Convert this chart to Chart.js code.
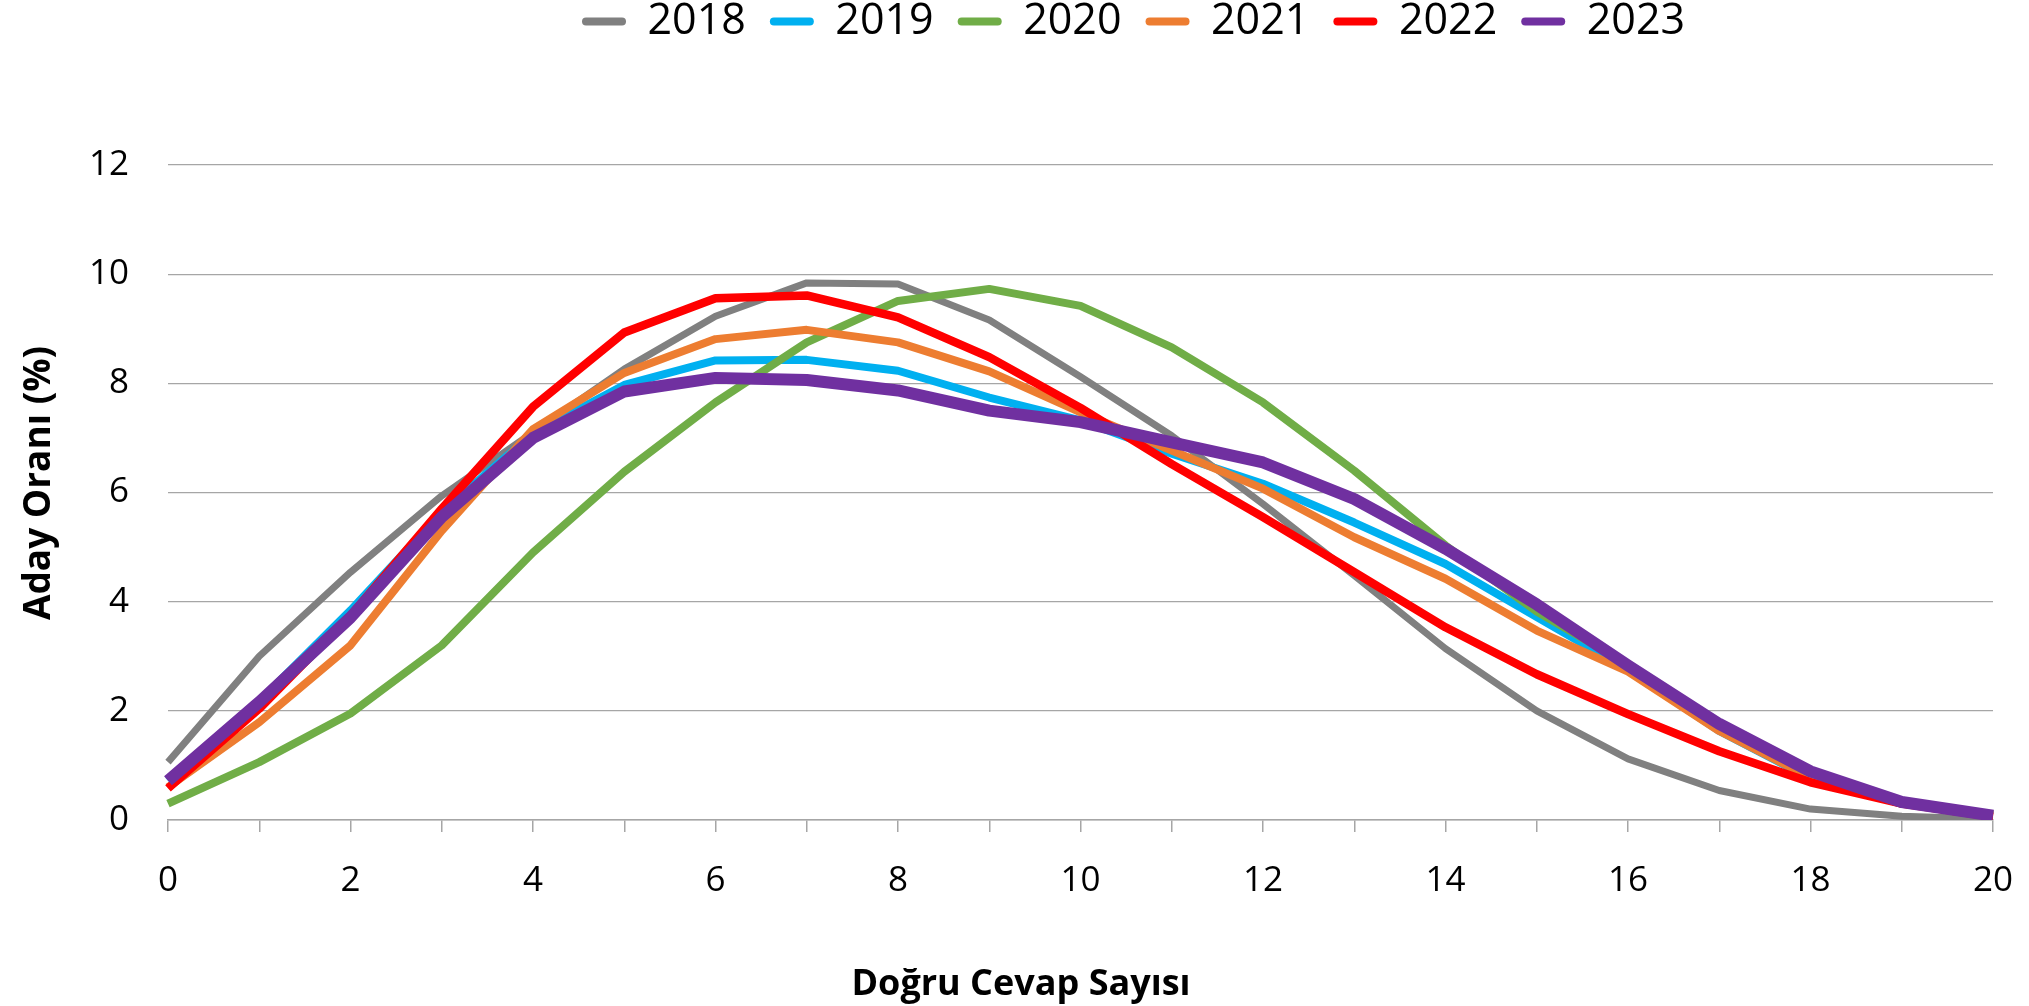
<!DOCTYPE html>
<html lang="tr">
<head>
<meta charset="utf-8">
<title>Doğru Cevap Sayısı - Aday Oranı</title>
<script src="https://cdn.jsdelivr.net/npm/chart.js@4.4.1/dist/chart.umd.min.js"></script>
<style>
    html, body { margin: 0; padding: 0; background: #ffffff; }
    #kutu { width: 2029px; height: 1006px; }
</style>
</head>
<body>
<div id="kutu"><canvas id="dagilimChart" width="2029" height="1006"></canvas></div>
<script>
// x ekseni: doğru cevap sayısı
const dogruSayilari = [0, 1, 2, 3, 4, 5, 6, 7, 8, 9, 10, 11, 12, 13, 14, 15, 16, 17, 18, 19, 20];
const yillar = ['2018', '2019', '2020', '2021', '2022', '2023'];

// aday oranı (%)
const oran2018 = [1.06, 3.0, 4.54, 5.94, 7.1, 8.26, 9.23, 9.84, 9.82, 9.16, 8.12, 7.04, 5.79, 4.48, 3.14, 2.0, 1.12, 0.54, 0.2, 0.07, 0.02];
const oran2019 = [0.72, 2.18, 3.84, 5.64, 7.08, 7.97, 8.42, 8.43, 8.23, 7.74, 7.32, 6.71, 6.16, 5.45, 4.69, 3.72, 2.75, 1.63, 0.76, 0.3, 0.1];
const oran2020 = [0.3, 1.06, 1.95, 3.2, 4.9, 6.38, 7.65, 8.75, 9.51, 9.73, 9.42, 8.66, 7.65, 6.4, 5.03, 3.82, 2.85, 1.68, 0.82, 0.3, 0.1];
const oran2021 = [0.6, 1.79, 3.2, 5.3, 7.16, 8.19, 8.81, 8.98, 8.75, 8.22, 7.47, 6.77, 6.07, 5.18, 4.42, 3.47, 2.72, 1.63, 0.78, 0.3, 0.1];
const oran2022 = [0.58, 2.04, 3.74, 5.7, 7.57, 8.93, 9.56, 9.61, 9.21, 8.48, 7.55, 6.52, 5.55, 4.54, 3.53, 2.67, 1.94, 1.26, 0.69, 0.3, 0.06];
const oran2023 = [0.72, 2.16, 3.71, 5.55, 7.0, 7.85, 8.1, 8.06, 7.87, 7.5, 7.29, 6.92, 6.55, 5.88, 4.97, 3.95, 2.83, 1.76, 0.89, 0.33, 0.08];

const seriler = [oran2018, oran2019, oran2020, oran2021, oran2022, oran2023];

// görünüm
const renkler = ['#808080', '#00B0F0', '#70AD47', '#ED7D31', '#FF0000', '#7030A0'];
const kalinliklar = [7, 8, 8, 8, 8.5, 12];
const GRID_RENK = '#A6A6A6';
const YAZI = "'Open Sans', sans-serif";

const GRAFIK_UST = 165;     // çizim alanının üst kenarı
const GRAFIK_ALT = 820;     // x ekseninin konumu
const GRAFIK_SOL = 168;
const LEGEND_BASLANGIC = 582;
const LEGEND_YUKARI = 24;
const X_BASLIK_MERKEZ = 1021;
const Y_BASLIK_MERKEZ = 483;

// legend yüksekliğini sabitler, satırı ve eksen başlıklarını referanstaki yerine kaydırır
const yerlesim = {
    id: 'yerlesim',
    beforeUpdate(chart) {
        const lg = chart.legend;
        if (!lg || lg._sabit) return;
        const asilFit = lg.fit;
        lg.fit = function () {
            asilFit.call(this);
            this.height = GRAFIK_UST;
        };
        lg._sabit = true;
    },
    afterLayout(chart) {
        const lg = chart.legend;
        if (lg && lg.lineWidths) {
            const pad = lg.options.labels.padding;
            const bas = (lg.left + pad + lg.right - lg.lineWidths[0]) / 2;
            const kaydir = LEGEND_BASLANGIC - bas;
            lg.left += kaydir;
            lg.right += kaydir;
            lg.top -= LEGEND_YUKARI;
            lg.bottom -= LEGEND_YUKARI;
        }

        const sx = chart.scales.x;
        if (sx && !sx._baslikSabit) {
            const asil = sx.drawTitle;
            sx.drawTitle = function () {
                const l = this.left, r = this.right;
                this.left = X_BASLIK_MERKEZ - 500;
                this.right = X_BASLIK_MERKEZ + 500;
                asil.call(this);
                this.left = l;
                this.right = r;
            };
            sx._baslikSabit = true;
        }
        const sy = chart.scales.y;
        if (sy && !sy._baslikSabit) {
            const asil = sy.drawTitle;
            sy.drawTitle = function () {
                const t = this.top, b = this.bottom;
                this.top = Y_BASLIK_MERKEZ - 300;
                this.bottom = Y_BASLIK_MERKEZ + 300;
                asil.call(this);
                this.top = t;
                this.bottom = b;
            };
            sy._baslikSabit = true;
        }
    }
};

const datasets = yillar.map((yil, i) => ({
    label: yil,
    data: seriler[i],
    borderColor: renkler[i],
    backgroundColor: renkler[i],
    borderWidth: kalinliklar[i],
    pointRadius: 0,
    tension: 0,
    fill: false,
    order: yillar.length - i   // son yıl en üstte çizilsin
}));

const ctx = document.getElementById('dagilimChart').getContext('2d');
new Chart(ctx, {
    type: 'line',
    data: { labels: dogruSayilari, datasets },
    plugins: [yerlesim],
    options: {
        responsive: false,
        devicePixelRatio: 1,
        animation: false,
        layout: { padding: { top: 0, left: 0, right: 36, bottom: 0 } },
        elements: { line: { borderJoinStyle: 'round' } },
        plugins: {
            tooltip: { enabled: false },
            legend: {
                position: 'top',
                labels: {
                    boxWidth: 44,
                    boxHeight: 8,
                    padding: 24,
                    color: '#000000',
                    useBorderRadius: true,
                    borderRadius: 4,
                    font: { family: YAZI, size: 43 },
                    generateLabels: (chart) => chart.data.datasets.map((ds, i) => ({
                        text: ds.label,
                        fillStyle: ds.borderColor,
                        strokeStyle: ds.borderColor,
                        lineWidth: 0,
                        borderRadius: 4,
                        fontColor: '#000000',
                        hidden: !chart.isDatasetVisible(i),
                        datasetIndex: i
                    }))
                }
            }
        },
        scales: {
            x: {
                type: 'category',
                grid: {
                    drawOnChartArea: false,
                    drawTicks: true,
                    tickLength: 12,
                    color: GRID_RENK,
                    lineWidth: 1.5
                },
                border: { display: true, color: GRID_RENK, width: 1.5 },
                ticks: {
                    autoSkip: false,
                    maxRotation: 0,
                    padding: 28,
                    color: '#000000',
                    font: { family: YAZI, size: 35 },
                    callback: (val, idx) => (idx % 2 === 0 ? String(dogruSayilari[idx]) : '')
                },
                title: {
                    display: true,
                    text: 'Doğru Cevap Sayısı',
                    color: '#000000',
                    font: { family: YAZI, size: 36, weight: 'bold' },
                    padding: { top: 0, bottom: 0 }
                },
                afterFit: (scale) => {
                    scale.height = 1006 - GRAFIK_ALT;
                    scale.paddingRight = 0;
                    scale.paddingLeft = 0;
                }
            },
            y: {
                min: 0,
                max: 12,
                grid: { drawTicks: false, color: GRID_RENK, lineWidth: 1.3 },
                border: { display: false },
                ticks: {
                    stepSize: 2,
                    padding: 39,
                    color: '#000000',
                    font: { family: YAZI, size: 35 }
                },
                title: {
                    display: true,
                    text: 'Aday Oranı (%)',
                    color: '#000000',
                    font: { family: YAZI, size: 37, weight: 'bold' },
                    padding: { top: 17, bottom: 0 }
                },
                afterFit: (scale) => { scale.width = GRAFIK_SOL; }
            }
        }
    }
});
</script>
</body>
</html>
